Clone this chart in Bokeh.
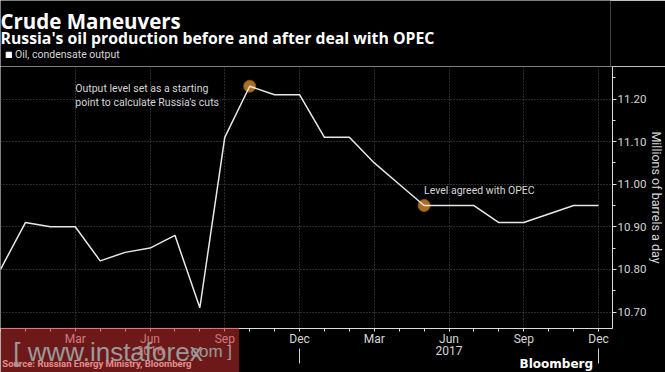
import numpy as np
from bokeh.plotting import figure
from bokeh.layouts import column
from bokeh.models import (FixedTicker, LinearAxis, Legend, LegendItem, Range1d,
                          NumeralTickFormatter)
from bokeh.core.properties import value
from bokeh.embed import file_html
from bokeh.resources import INLINE

# ---- data -------------------------------------------------------------
months = ["Dec 2015", "Jan 2016", "Feb 2016", "Mar 2016", "Apr 2016", "May 2016",
          "Jun 2016", "Jul 2016", "Aug 2016", "Sep 2016", "Oct 2016", "Nov 2016",
          "Dec 2016", "Jan 2017", "Feb 2017", "Mar 2017", "Apr 2017", "May 2017",
          "Jun 2017", "Jul 2017", "Aug 2017", "Sep 2017", "Oct 2017", "Nov 2017",
          "Dec 2017"]
output = [10.80, 10.91, 10.90, 10.90, 10.82, 10.84, 10.85, 10.88, 10.71, 11.11,
          11.23, 11.21, 11.21, 11.11, 11.11, 11.05, 11.00, 10.95, 10.95, 10.95,
          10.91, 10.91, 10.93, 10.95, 10.95]
tick_months = ["Mar", "Jun", "Sep", "Dec"]
year_labels = ["2016", "2017"]
y_ticks = [10.70, 10.80, 10.90, 11.00, 11.10, 11.20]
highlight_months = ["Oct 2016", "May 2017"]
highlight_notes = ["Output level set as a starting\npoint to calculate Russia's cuts",
                   "Level agreed with OPEC"]
title = "Crude Maneuvers"
subtitle = "Russia's oil production before and after deal with OPEC"
series_name = "Oil, condensate output"
y_label = "Millions of barrels a day"
source = "Source: Russian Energy Ministry, Bloomberg"

# ---- derived ----------------------------------------------------------
idx = list(range(len(months)))
short = [m.split()[0] for m in months]
labelled = [i for i, m in enumerate(months)
            if m.split()[0] in tick_months and m.split()[1] in year_labels]
x_overrides = {i: (short[i] if i in labelled else "") for i in idx}
quarter_ticks = [i for i, s in zip(idx, short) if s in tick_months]
year_ticks = [months.index("Jun " + y) for y in year_labels]
year_seps = [months.index("Dec " + y) for y in year_labels]
hx = [months.index(m) for m in highlight_months]
hy = [output[i] for i in hx]

W = 665
HEAD_H = 66
FW, FH = 612, 262
BOT = 44
FOOT_H = 45          # footer overlay covers the bottom 45px of the chart
X0, X1 = 0.0, 24.56
Y0, Y1 = 10.6613, 11.2763
FONT = "Roboto"
HFONT = "Open Sans"
TXT = "#d6d6d6"
BG = "black"

# ---- header -----------------------------------------------------------
head = figure(width=W, height=HEAD_H, output_backend="svg", toolbar_location=None,
              x_range=Range1d(0, W), y_range=Range1d(HEAD_H, 0),
              x_axis_type=None, y_axis_type=None,
              min_border_left=0, min_border_right=0, min_border_top=0,
              min_border_bottom=0, background_fill_color=BG,
              border_fill_color=BG, outline_line_color=None)
head.grid.visible = False
head.text(x=[0], y=[20.5], text=[title], text_font=value(HFONT),
          text_font_size="20.5px", text_font_style="bold", text_color="white",
          text_baseline="alphabetic")
head.text(x=[0], y=[37.5], text=[subtitle], text_font=value(HFONT),
          text_font_size="15.8px", text_font_style="bold", text_color="white",
          text_baseline="alphabetic")
dummy = head.quad(left=[float("nan")], right=[float("nan")], top=[float("nan")],
                  bottom=[float("nan")], fill_color="white", line_color="white")
leg = Legend(items=[LegendItem(label=series_name, renderers=[dummy])],
             location="bottom_left", orientation="horizontal",
             glyph_width=7, glyph_height=7, label_standoff=3, label_height=11,
             label_text_font=FONT, label_text_font_size="10.5px",
             label_text_color=TXT, background_fill_alpha=0,
             border_line_color=None, padding=0, margin=5, spacing=0)
head.add_layout(leg, "center")

# ---- main chart -------------------------------------------------------
p = figure(frame_width=FW, frame_height=FH, output_backend="svg",
           toolbar_location=None,
           x_range=Range1d(X0, X1), y_range=Range1d(Y0, Y1),
           y_axis_location="right",
           min_border_left=0, min_border_right=W - FW,
           min_border_top=0, min_border_bottom=BOT,
           background_fill_color=BG, border_fill_color=BG,
           outline_line_color=None)

p.xgrid.ticker = FixedTicker(ticks=quarter_ticks)
for g in (p.xgrid, p.ygrid):
    g.grid_line_color = "#555555"
    g.grid_line_dash = "1 2"
    g.grid_line_width = 1

xa = p.xaxis[0]
xa.ticker = FixedTicker(ticks=idx)
xa.major_label_overrides = x_overrides
xa.axis_line_color = "#dddddd"
xa.major_tick_line_color = "#dddddd"
xa.major_tick_out = 3
xa.major_tick_in = 0
xa.minor_tick_line_color = None
xa.major_label_standoff = 0
xa.major_label_text_font = FONT
xa.major_label_text_font_size = "12px"
xa.major_label_text_color = TXT

ya2 = LinearAxis(ticker=FixedTicker(ticks=year_ticks, minor_ticks=year_seps),
                 major_label_overrides={t: y for t, y in zip(year_ticks, year_labels)})
ya2.axis_line_color = None
ya2.major_tick_line_color = None
ya2.major_tick_out = 0
ya2.major_tick_in = 0
ya2.minor_tick_line_color = "#cccccc"
ya2.minor_tick_out = 15
ya2.minor_tick_in = 0
ya2.major_label_standoff = -18
ya2.major_label_text_font = FONT
ya2.major_label_text_font_size = "12px"
ya2.major_label_text_color = TXT
p.add_layout(ya2, "below")

ya = p.yaxis[0]
ya.ticker = FixedTicker(ticks=y_ticks, minor_ticks=[t + 0.05 for t in y_ticks])
ya.formatter = NumeralTickFormatter(format="0.00")
ya.axis_line_color = "#dddddd"
ya.major_tick_line_color = "#dddddd"
ya.minor_tick_line_color = "#dddddd"
ya.major_tick_out = 4
ya.major_tick_in = 0
ya.minor_tick_out = 3
ya.minor_tick_in = 0
ya.major_label_standoff = 1
ya.major_label_text_font = FONT
ya.major_label_text_font_size = "11.5px"
ya.major_label_text_color = TXT
ya.axis_label = y_label
ya.axis_label_text_font = FONT
ya.axis_label_text_font_size = "12.5px"
ya.axis_label_text_font_style = "normal"
ya.axis_label_text_color = TXT
ya.axis_label_standoff = 0

p.scatter(hx, hy, size=12, fill_color="#c07a22", fill_alpha=0.9,
          line_color="#8a5514", line_width=1)
p.line(idx, output, line_color="#e8e8e8", line_width=1.5)

p.text(x=[quarter_ticks[1]], y=[11.241], text=[highlight_notes[0]],
       text_font=value(FONT), text_font_size="10.5px", text_color=TXT,
       text_baseline="top", text_align="left", text_line_height=1.14)
p.text(x=[hx[1]], y=[11.0016], text=[highlight_notes[1]],
       text_font=value(FONT), text_font_size="10.5px", text_color=TXT,
       text_baseline="top", text_align="left")

# ---- footer (overlaps the bottom of the chart) ------------------------
foot = figure(width=W, height=FOOT_H, output_backend="svg", toolbar_location=None,
              x_range=Range1d(0, W), y_range=Range1d(FOOT_H, 0),
              x_axis_type=None, y_axis_type=None,
              min_border_left=0, min_border_right=0, min_border_top=0,
              min_border_bottom=0, background_fill_alpha=0, border_fill_alpha=0,
              outline_line_color=None)
foot.grid.visible = False
foot.margin = (-FOOT_H, 0, 0, 0)
foot.text(x=[2], y=[36], text=[source],
          text_font=value(FONT), text_font_size="9.5px",
          text_font_style="bold", text_color="white", text_baseline="alphabetic")
foot.text(x=[646], y=[36], text=["Bloomberg"], text_font=value("DejaVu Sans"),
          text_font_size="12px", text_font_style="bold", text_color="white",
          text_baseline="alphabetic", text_align="right")
# watermark overlay
foot.quad(left=[0], right=[260], top=[0], bottom=[FOOT_H],
          fill_color="#c82d2d", fill_alpha=0.55, line_color=None)
foot.text(x=[14], y=[24], text=["[ www.instaforex"],
          text_font=value("Liberation Sans"), text_font_size="26px",
          text_color="#9a9a9a", text_baseline="alphabetic")
foot.text(x=[202], y=[24], text=[".com ]"],
          text_font=value("Liberation Sans"), text_font_size="17px",
          text_color="#9a9a9a", text_baseline="alphabetic")

layout = column(head, p, foot, spacing=0)
open("out.html", "w").write(file_html(layout, INLINE))
